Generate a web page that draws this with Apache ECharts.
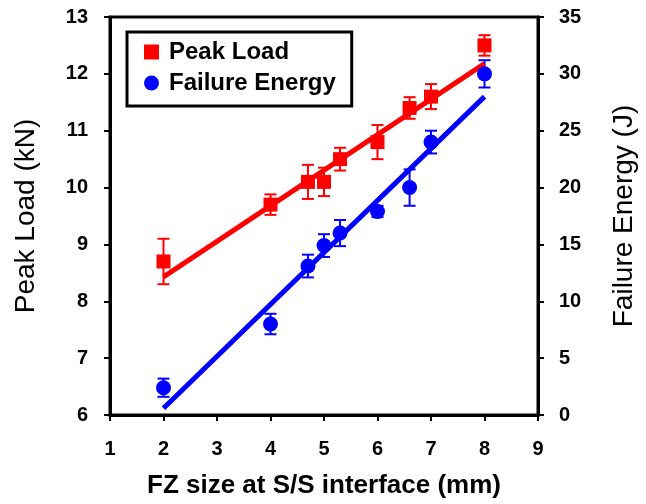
<!DOCTYPE html>
<html>
<head>
<meta charset="utf-8">
<script src="https://cdn.jsdelivr.net/npm/echarts@6/dist/echarts.min.js"></script>
<style>
  html, body { margin: 0; padding: 0; background: #fff; }
  #main { width: 646px; height: 504px; }
</style>
</head>
<body>
<div id="main"></div>
<script>
// FZ size (mm) of each sample
const fzSize = [2, 4, 4.7, 5, 5.3, 6, 6.6, 7, 8];
// peak load (kN) and its error
const peakLoad = [8.7, 9.7, 10.1, 10.1, 10.5, 10.8, 11.4, 11.6, 12.5];
const peakErr = [0.4, 0.18, 0.3, 0.25, 0.2, 0.3, 0.19, 0.22, 0.18];
// failure energy (J) and its error
const failureEnergy = [2.4, 8.0, 13.1, 14.9, 16.0, 17.9, 20.0, 24.0, 30.0];
const energyErr = [0.8, 0.9, 1.0, 1.0, 1.15, 0.5, 1.6, 1.0, 1.2];
// fitted lines (end points)
const peakFit = [[2, 8.43], [8, 12.18]];
const energyFit = [[2, 0.6], [8, 28.0]];

const FONT = 'Liberation Sans, Arial, sans-serif';
const RED = '#ff0000';
const BLUE = '#0000ff';

const pts = (ys) => fzSize.map((x, i) => [x, ys[i]]);
const errPts = (ys, es) => fzSize.map((x, i) => [x, ys[i], es[i]]);

function errorBar(color) {
  return function (params, api) {
    const x = api.value(0), y = api.value(1), e = api.value(2);
    const top = api.coord([x, y + e]);
    const bot = api.coord([x, y - e]);
    const w = 6;
    const style = { stroke: color, lineWidth: 2 };
    return {
      type: 'group',
      children: [
        { type: 'line', shape: { x1: top[0], y1: top[1], x2: bot[0], y2: bot[1] }, style },
        { type: 'line', shape: { x1: top[0] - w, y1: top[1], x2: top[0] + w, y2: top[1] }, style },
        { type: 'line', shape: { x1: bot[0] - w, y1: bot[1], x2: bot[0] + w, y2: bot[1] }, style }
      ]
    };
  };
}

const tickLabel = { color: '#000', fontFamily: FONT, fontWeight: 'bold', fontSize: 20 };
const blackLine = { show: true, lineStyle: { color: '#000', width: 3 } };
const blackTick = { show: true, length: 6, lineStyle: { color: '#000', width: 2 } };

const option = {
  animation: false,
  grid: {
    left: 110, right: 105, top: 17, bottom: 86,
    show: true, borderColor: '#000', borderWidth: 3
  },
  legend: {
    left: 127, top: 32,
    orient: 'vertical',
    data: ['Peak Load', 'Failure Energy'],
    itemWidth: 15, itemHeight: 15,
    itemGap: 7,
    padding: [8, 16, 11, 17],
    borderColor: '#000', borderWidth: 3,
    textStyle: { color: '#000', fontFamily: FONT, fontWeight: 'bold', fontSize: 24, padding: [0, 0, 0, 5] }
  },
  xAxis: {
    type: 'value', min: 1, max: 9, interval: 1,
    axisLine: blackLine,
    axisTick: blackTick,
    axisLabel: Object.assign({ margin: 24 }, tickLabel),
    splitLine: { show: false },
    name: 'FZ size at S/S interface (mm)',
    nameLocation: 'middle', nameGap: 58,
    nameTextStyle: { color: '#000', fontFamily: FONT, fontWeight: 'bold', fontSize: 26 }
  },
  yAxis: [
    {
      type: 'value', min: 6, max: 13, interval: 1, position: 'left',
      axisLine: blackLine,
      axisTick: blackTick,
      axisLabel: Object.assign({ margin: 22 }, tickLabel),
      splitLine: { show: false },
      name: 'Peak Load (kN)',
      nameLocation: 'middle', nameGap: 70,
      nameTextStyle: { color: '#000', fontFamily: FONT, fontSize: 28 }
    },
    {
      type: 'value', min: 0, max: 35, interval: 5, position: 'right',
      axisLine: blackLine,
      axisTick: blackTick,
      axisLabel: Object.assign({ margin: 21 }, tickLabel),
      splitLine: { show: false },
      name: 'Failure Energy (J)',
      nameLocation: 'middle', nameGap: 72,
      nameTextStyle: { color: '#000', fontFamily: FONT, fontSize: 28 }
    }
  ],
  series: [
    {
      name: 'Peak Load fit', type: 'line', yAxisIndex: 0,
      data: peakFit, symbol: 'none',
      lineStyle: { color: RED, width: 5 }, z: 3
    },
    {
      name: 'Failure Energy fit', type: 'line', yAxisIndex: 1,
      data: energyFit, symbol: 'none',
      lineStyle: { color: BLUE, width: 5 }, z: 3
    },
    {
      name: 'Peak Load err', type: 'custom', yAxisIndex: 0,
      data: errPts(peakLoad, peakErr), renderItem: errorBar(RED), z: 2
    },
    {
      name: 'Failure Energy err', type: 'custom', yAxisIndex: 1,
      data: errPts(failureEnergy, energyErr), renderItem: errorBar(BLUE), z: 2
    },
    {
      name: 'Peak Load', type: 'scatter', yAxisIndex: 0,
      data: pts(peakLoad), symbol: 'rect', symbolSize: 14,
      itemStyle: { color: RED, opacity: 1 }, z: 4
    },
    {
      name: 'Failure Energy', type: 'scatter', yAxisIndex: 1,
      data: pts(failureEnergy), symbol: 'circle', symbolSize: 15,
      itemStyle: { color: BLUE, opacity: 1 }, z: 4
    }
  ]
};

const chart = echarts.init(document.getElementById('main'));
chart.setOption(option);
</script>
</body>
</html>
